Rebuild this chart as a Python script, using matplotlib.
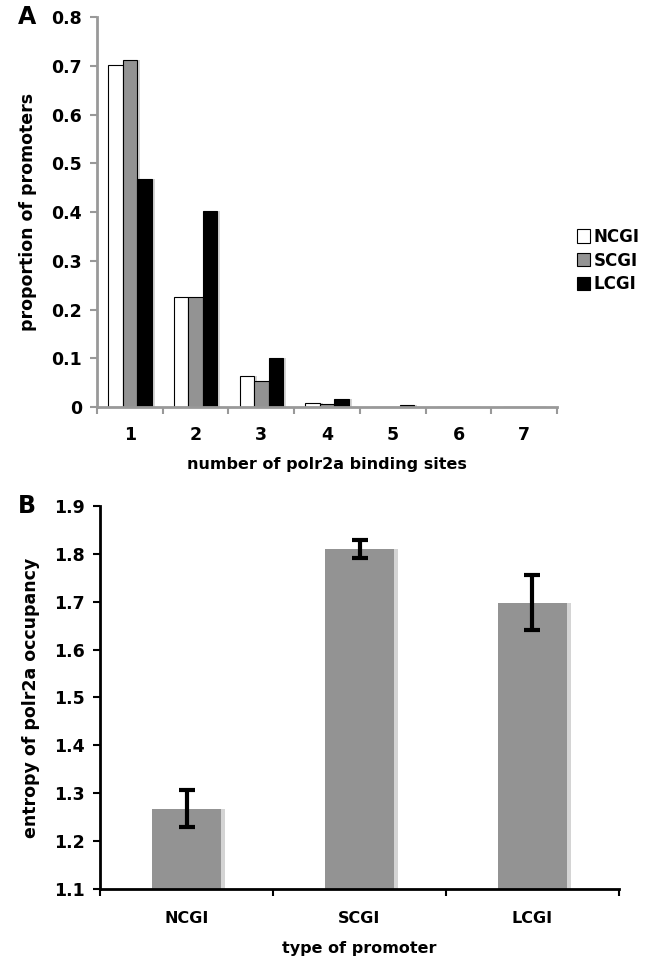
import numpy as np
import matplotlib
matplotlib.use("Agg")
import matplotlib.pyplot as plt
from matplotlib.patches import Patch

# panel A data
sites = ["1", "2", "3", "4", "5", "6", "7"]
ncgi = [0.702, 0.225, 0.063, 0.009, 0.001, 0.0, 0.0]
scgi = [0.712, 0.226, 0.054, 0.006, 0.001, 0.0, 0.0]
lcgi = [0.467, 0.402, 0.101, 0.016, 0.004, 0.0, 0.0]
series_names = ["NCGI", "SCGI", "LCGI"]
series_colors = ["white", "#939393", "black"]

# panel B data
promoter_types = ["NCGI", "SCGI", "LCGI"]
entropy = [1.268, 1.810, 1.698]
entropy_err = [0.039, 0.019, 0.058]

plt.rcParams['font.family'] = ['DejaVu Sans']
plt.rcParams['font.weight'] = 'bold'
plt.rcParams['axes.labelweight'] = 'bold'

fig = plt.figure(figsize=(6.47, 9.57), dpi=100)

# ---------- A ----------
axA = fig.add_axes([0.150, 0.5747, 0.711, 0.4073])
x = np.arange(len(sites))
w = 0.22
shadow = "#d4d4d4"
for i, (vals, col) in enumerate(zip([ncgi, scgi, lcgi], series_colors)):
    pos = x + (i - 1) * w
    axA.bar(pos + 0.045, vals, w, color=shadow, zorder=1, linewidth=0)
    axA.bar(pos, vals, w, color=col, edgecolor="black", linewidth=0.8, zorder=2)

axA.set_xlim(-0.5, len(sites) - 0.5)
axA.set_ylim(0, 0.8)
axA.set_yticks(np.arange(0, 0.81, 0.1))
axA.set_yticklabels(["0"] + ["%.1f" % v for v in np.arange(0.1, 0.81, 0.1)])
axA.set_xticks(x)
axA.set_xticklabels(sites)
axA.set_xticks(np.arange(-0.5, len(sites)), minor=True)
axA.tick_params(axis="x", which="major", length=0, pad=14, labelsize=12.5)
axA.tick_params(axis="x", which="minor", length=5, width=1.5, color="#999999", direction="out")
axA.tick_params(axis="y", length=5, width=1.5, color="#999999", labelsize=12.5, pad=6)
for s in ["top", "right"]:
    axA.spines[s].set_visible(False)
for s in ["left", "bottom"]:
    axA.spines[s].set_color("#999999")
    axA.spines[s].set_linewidth(2)
axA.set_ylabel("proportion of promoters", fontsize=12.5, labelpad=10)
axA.set_xlabel("number of polr2a binding sites", fontsize=11.5, labelpad=9)

handles = [Patch(facecolor=c, edgecolor="black", linewidth=0.8) for c in series_colors]
fig.legend(handles, series_names, loc="upper left", bbox_to_anchor=(0.892, 0.762),
           frameon=False, fontsize=12, handlelength=0.75, handleheight=0.85,
           handletextpad=0.25, labelspacing=0.35, borderaxespad=0, borderpad=0)

fig.text(0.027, 0.982, "A", fontsize=17, va="center", ha="left")

# ---------- B ----------
axB = fig.add_axes([0.1546, 0.0711, 0.8021, 0.4002])
xb = np.arange(len(promoter_types))
wb = 0.4
axB.bar(xb + 0.02, entropy, wb, bottom=0, color=shadow, zorder=1, linewidth=0)
axB.bar(xb, entropy, wb, color="#939393", zorder=2, linewidth=0)
axB.errorbar(xb, entropy, yerr=entropy_err, fmt="none", ecolor="black",
             elinewidth=3, capsize=6, capthick=3, zorder=3)
axB.set_xlim(-0.5, len(promoter_types) - 0.5)
axB.set_ylim(1.1, 1.9)
axB.set_yticks(np.arange(1.1, 1.91, 0.1))
axB.set_yticklabels(["%.1f" % v for v in np.arange(1.1, 1.91, 0.1)])
axB.set_xticks(xb)
axB.set_xticklabels(promoter_types)
axB.set_xticks(np.arange(-0.5, len(promoter_types)), minor=True)
axB.tick_params(axis="x", which="major", length=0, pad=16, labelsize=11.5)
axB.tick_params(axis="x", which="minor", length=5, width=1.5, color="black", direction="out")
axB.tick_params(axis="y", length=5, width=1.5, color="black", labelsize=12.5, pad=6)
for s in ["top", "right"]:
    axB.spines[s].set_visible(False)
for s in ["left", "bottom"]:
    axB.spines[s].set_linewidth(2)
axB.set_ylabel("entropy of polr2a occupancy", fontsize=12.5, labelpad=10)
axB.set_xlabel("type of promoter", fontsize=11.5, labelpad=11)

fig.text(0.027, 0.471, "B", fontsize=17, va="center", ha="left")

fig.savefig("out.png", dpi=100)
